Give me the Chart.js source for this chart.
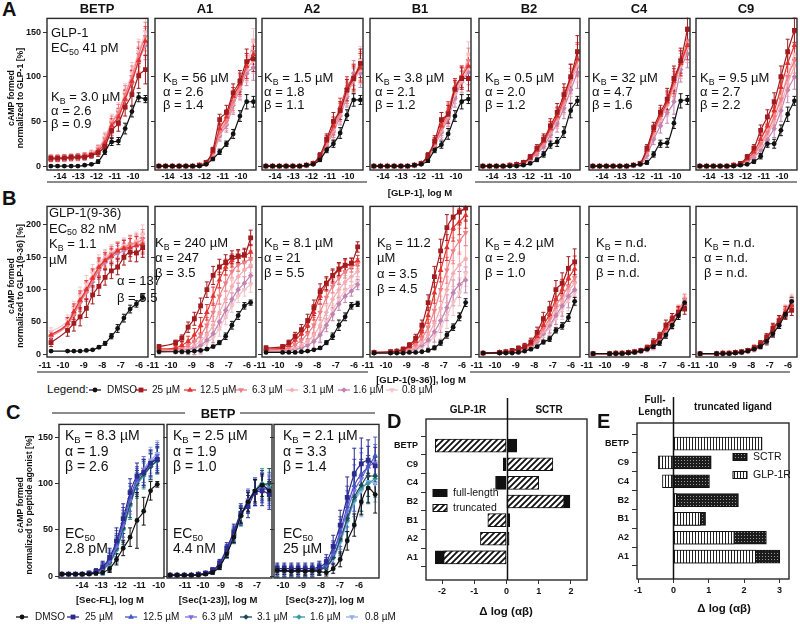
<!DOCTYPE html>
<html>
<head>
<meta charset="utf-8">
<script src="https://cdn.jsdelivr.net/npm/chart.js@4.4.1/dist/chart.umd.min.js"></script>
<style>
  body { margin: 0; background: #fff; }
  #fig { position: relative; width: 800px; height: 624px; overflow: hidden; background: #fff;
         font-family: "Liberation Sans", Arial, sans-serif; color: #111; }
  #fig canvas { position: absolute; }
  .t { position: absolute; white-space: nowrap; line-height: 1; }
  .sb { font-size: 0.68em; position: relative; top: 0.32em; }
  .ln { position: absolute; background: #8c8c8c; }
</style>
</head>
<body>
<div id="fig"></div>
<script>
// ---- concentrations (log M) ----
const glp1Log = [-14.5,-14.13,-13.76,-13.39,-13.02,-12.65,-12.28,-11.91,-11.54,-11.17,-10.8,-10.43,-10.06,-9.69,-9.32];
const glp936Log = [-11,-10.1,-9.76,-9.42,-9.08,-8.74,-8.4,-8.06,-7.72,-7.38,-7.04,-6.7,-6.36,-6.02];
const secFLLog = [-15.05,-14.7,-14.34,-13.99,-13.63,-13.27,-12.92,-12.56,-12.2,-11.85,-11.49,-11.13,-10.78,-10.42,-10.07];
const sec123Log = [-11.83,-11.44,-11.04,-10.65,-10.26,-9.86,-9.47,-9.08,-8.68,-8.29,-7.9,-7.5,-7.11,-6.72,-6.32];
const sec327Log = [-10.3,-9.93,-9.56,-9.2,-8.83,-8.46,-8.09,-7.72,-7.36,-6.99,-6.62,-6.25,-5.88,-5.52,-5.15];

const seriesLabels = ['DMSO', '25 µM', '12.5 µM', '6.3 µM', '3.1 µM', '1.6 µM', '0.8 µM'];

// ---- row A: [GLP-1] responses, % of GLP-1 (DMSO, 25, 12.5, 6.3, 3.1, 1.6, 0.8 µM) ----
const aBETP = [
  [0,0,0,0,0,1,2,5,16,27,28,42,61,77,75],
  [9,9,9,10,10,10,12,15,22,40,48,66,80,101,108],
  [8,8,9,9,10,11,13,17,26,45,55,75,95,118,140],
  [9,9,10,10,11,12,14,19,30,48,60,80,100,125,145],
  [8,8,8,9,9,10,12,16,26,44,56,76,96,120,138],
  [8,8,8,9,9,10,12,15,24,42,54,74,94,118,135],
  [10,10,10,11,11,12,15,20,32,50,62,82,104,128,150]];
const aBETPErr = [[1,1,1,1,1,1,1,2,3,4,4,6,6,5,4], [3,3,3,3,3,3,3,4,6,8,9,10,12,14,16]];
const aA1 = [
  [0,0,0,0,0,0,0,2,8,16,25,36,56,72,72],
  [0,0,0,0,0,0,1,4,18,52,60,82,95,117,120],
  [0,0,0,0,0,0,1,4,16,42,55,78,92,112,125],
  [0,0,0,0,0,0,1,3,14,38,50,72,90,110,128],
  [0,0,0,0,0,0,1,3,13,36,48,70,88,108,118],
  [0,0,0,0,0,0,1,3,12,34,46,68,86,104,110],
  [0,0,0,0,0,0,1,4,15,40,52,75,92,112,140]];
const aA1Err = [[1,1,1,1,1,1,1,1,2,3,3,5,6,8,6], [1,1,1,1,1,1,1,2,3,6,8,10,12,14,14]];
const aA2 = [
  [0,0,0,0,0,0,1,2,7,18,25,37,57,74,74],
  [0,0,0,0,0,0,1,3,12,30,50,62,85,98,115],
  [0,0,0,0,0,0,1,3,10,28,45,66,88,100,110],
  [0,0,0,0,0,0,1,3,10,26,42,60,82,96,112],
  [0,0,0,0,0,0,1,3,9,25,40,58,80,95,108],
  [0,0,0,0,0,0,1,3,9,24,38,56,78,104,104],
  [0,0,0,0,0,0,1,3,11,28,44,62,84,100,118]];
const aA2Err = [[1,1,1,1,1,1,1,1,2,3,4,6,6,7,5], [1,1,1,1,1,1,1,2,3,6,10,10,12,14,16]];
const aB1 = [
  [0,0,0,0,0,0,1,2,6,18,24,36,56,72,75],
  [0,0,0,0,0,0,1,3,12,28,52,58,86,98,98],
  [0,0,0,0,0,0,1,3,11,26,45,62,88,100,112],
  [0,0,0,0,0,0,1,3,10,25,42,58,84,100,118],
  [0,0,0,0,0,0,1,3,10,24,40,56,80,95,110],
  [0,0,0,0,0,0,1,3,9,23,38,54,76,94,105],
  [0,0,0,0,0,0,1,3,11,26,44,60,84,98,125]];
const aB1Err = [[1,1,1,1,1,1,1,1,2,3,4,6,6,8,5], [1,1,1,1,1,1,1,2,3,6,8,10,10,12,14]];
const aB2 = [
  [0,0,0,0,0,0,1,3,7,13,24,27,38,62,73],
  [0,0,0,0,1,2,4,10,20,30,45,60,80,100,128],
  [0,0,0,0,1,2,4,9,18,28,42,56,76,100,120],
  [0,0,0,0,1,2,3,8,16,26,40,54,72,95,118],
  [0,0,0,0,1,2,3,8,16,25,38,52,70,92,112],
  [0,0,0,0,1,1,3,7,14,22,35,48,65,85,105],
  [0,0,0,0,1,2,4,9,18,28,42,56,74,96,118]];
const aB2Err = [[1,1,1,1,1,1,1,1,2,3,4,5,6,8,5], [1,1,1,1,1,1,2,3,4,6,8,10,12,14,18]];
const aC4 = [
  [0,0,0,0,0,0,1,2,4,13,25,26,48,73,74],
  [0,0,0,0,0,0,1,3,20,43,60,75,98,118,153],
  [0,0,0,0,0,0,1,3,18,40,57,72,95,115,135],
  [0,0,0,0,0,0,1,3,16,38,55,70,92,115,140],
  [0,0,0,0,0,0,1,3,15,36,52,68,88,112,132],
  [0,0,0,0,0,0,1,2,12,30,45,60,72,108,126],
  [0,0,0,0,0,0,1,3,15,36,52,68,90,115,135]];
const aC4Err = [[1,1,1,1,1,1,1,1,2,3,4,5,6,8,5], [1,1,1,1,1,1,1,2,4,6,8,12,14,14,16]];
const aC9 = [
  [0,0,0,0,0,0,1,2,5,11,25,25,40,58,73],
  [0,0,0,0,0,1,3,10,20,40,55,72,100,128,152],
  [0,0,0,0,0,1,2,8,16,30,45,62,88,115,135],
  [0,0,0,0,0,1,2,6,13,25,38,55,75,100,118],
  [0,0,0,0,0,1,2,6,12,22,35,50,68,92,112],
  [0,0,0,0,0,0,2,5,10,18,30,42,62,85,100],
  [0,0,0,0,0,1,2,7,14,26,40,56,78,102,125]];
const aC9Err = [[1,1,1,1,1,1,1,1,2,3,4,5,6,8,5], [1,1,1,1,1,1,2,3,4,6,8,10,12,14,14]];

// ---- row B: [GLP-1(9-36)] responses ----
const bBETP = [
  [5,5,5,5,6,7,11,17,28,40,56,70,78,88],
  [18,37,48,58,71,92,105,119,129,135,150,158,157,165],
  [30,48,66,84,100,118,135,145,152,160,164,165,168,170],
  [28,45,62,80,98,115,132,145,155,160,165,170,172,178],
  [30,48,64,82,100,118,135,148,155,162,166,168,170,174],
  [28,46,62,80,96,112,130,142,150,156,160,165,168,172],
  [35,52,70,90,108,125,140,150,158,162,168,170,175,185]];
const bBETPErr = [[1,1,1,1,1,1,2,3,4,6,6,6,5,4], [6,9,12,14,14,14,14,12,12,12,12,14,14,15]];
const bA1 = [
  [4,4,4,4,5,6,8,12,18,28,45,60,75,80],
  [12,18,25,42,55,75,100,122,135,142,150,152,154,180],
  [8,10,14,20,30,45,65,90,115,135,145,150,152,158],
  [6,8,10,14,20,30,45,65,90,110,128,138,142,148],
  [5,6,8,10,14,20,30,45,65,85,105,120,130,138],
  [4,5,6,8,10,14,22,32,50,68,85,100,110,122],
  [4,5,6,7,9,12,18,26,40,58,75,90,100,108]];
const bA1Err = [[1,1,1,1,1,1,2,2,3,5,6,6,5,4], [3,4,5,8,10,12,12,14,12,12,10,10,10,12]];
const bA2 = [
  [3,3,3,3,4,5,7,10,18,28,45,58,75,78],
  [10,12,18,28,38,52,72,97,110,122,132,138,141,166],
  [8,10,14,22,32,45,65,90,108,120,130,136,140,145],
  [6,8,10,15,22,32,45,65,88,105,118,128,135,140],
  [5,6,8,10,14,20,30,45,65,85,100,112,120,128],
  [4,5,6,8,10,14,20,30,45,62,78,90,98,108],
  [4,5,6,8,10,14,22,32,50,68,85,98,105,112]];
const bA2Err = [[1,1,1,1,1,1,1,2,3,5,8,6,5,4], [3,3,4,6,8,10,12,12,10,10,10,10,8,8]];
const bB1 = [
  [2,2,2,2,3,3,4,6,10,18,30,42,58,80],
  [3,4,5,8,14,25,45,80,120,160,196,212,220,226],
  [3,4,5,7,12,20,35,60,95,130,165,195,205,215],
  [3,3,4,6,9,15,25,42,68,100,130,160,175,188],
  [3,3,4,5,7,11,18,30,48,72,100,125,138,148],
  [2,3,3,4,6,9,14,22,35,52,72,95,108,115],
  [2,3,3,4,5,7,11,18,28,42,60,80,95,125]];
const bB1Err = [[1,1,1,1,1,1,1,2,3,4,5,5,6,6], [2,2,2,3,4,6,8,12,16,18,20,20,20,20]];
const bB2 = [
  [2,2,2,2,3,5,8,12,19,24,37,44,57,82],
  [2,3,4,6,9,12,19,34,55,70,100,110,133,143],
  [2,3,4,5,8,11,16,28,45,62,85,100,118,132],
  [2,3,3,5,7,10,14,24,40,55,75,90,105,118],
  [2,3,3,4,6,9,13,22,36,50,68,82,98,110],
  [2,2,3,4,6,8,12,20,32,45,60,75,90,100],
  [2,2,3,4,5,7,11,18,30,42,56,70,85,95]];
const bB2Err = [[1,1,1,1,1,1,1,2,3,4,4,5,6,6], [1,1,2,3,4,5,6,8,10,12,14,16,18,20]];
const bC4 = [
  [1,1,1,1,2,3,5,8,12,18,30,45,60,80],
  [1,1,2,2,3,4,6,10,18,28,45,55,65,70],
  [1,1,2,2,3,4,6,10,16,26,40,55,66,78],
  [1,1,1,2,3,4,6,9,15,24,38,52,68,85],
  [1,1,1,2,3,4,5,9,14,22,36,50,65,80],
  [1,1,1,2,2,3,5,8,13,20,33,47,62,78],
  [1,1,1,2,3,4,5,9,14,22,35,50,66,82]];
const bC4Err = [[1,1,1,1,1,1,1,2,3,4,5,5,6,6], [1,1,1,1,2,2,3,4,6,6,8,8,8,8]];
const bC9 = [
  [1,1,1,1,2,3,5,8,12,20,32,45,62,82],
  [1,1,2,2,3,4,6,10,16,26,40,52,62,68],
  [1,1,2,2,3,4,6,10,16,25,38,52,66,75],
  [1,1,1,2,3,4,6,9,15,24,37,52,68,82],
  [1,1,1,2,3,4,5,9,14,22,36,50,66,80],
  [1,1,1,2,2,3,5,8,13,20,34,48,64,78],
  [1,1,1,2,3,4,5,9,14,22,35,50,66,85]];
const bC9Err = [[1,1,1,1,1,1,1,2,3,4,5,5,6,6], [1,1,1,1,2,2,3,4,5,6,8,8,8,8]];

// ---- row C: secretin peptides + BETP, % of peptide agonist ----
const cSecFL = [
  [2,2,2,2,2,3,4,8,18,30,42,60,70,92,99],
  [2,2,2,2,3,5,10,20,38,62,90,108,112,122,126],
  [2,2,2,2,3,5,9,18,35,58,85,104,112,120,128],
  [2,2,2,2,3,4,8,16,32,55,82,102,115,122,130],
  [2,2,2,2,3,4,8,15,30,52,78,100,110,118,125],
  [2,2,2,2,3,4,7,14,28,50,76,98,108,118,124],
  [2,2,2,2,3,4,7,14,28,50,76,100,115,125,132]];
const cSecFLErr = [[1,1,1,1,1,1,2,4,6,8,10,30,15,10,3], [1,1,1,1,2,3,6,10,14,16,15,14,14,14,14]];
const cSec123 = [
  [1,1,1,1,1,2,4,10,24,42,65,80,92,98,92],
  [1,1,1,1,2,3,6,14,30,48,68,75,90,92,88],
  [1,1,1,1,2,3,6,13,28,46,66,80,90,95,92],
  [1,1,1,1,2,3,6,12,27,45,66,82,92,96,94],
  [1,1,1,1,2,3,5,12,26,44,65,80,90,98,100],
  [1,1,1,1,2,3,5,11,25,43,64,80,92,100,96],
  [1,1,1,1,2,3,5,11,25,43,64,80,92,98,90]];
const cSec123Err = [[1,1,1,1,1,1,2,3,4,6,8,10,12,12,10], [1,1,1,1,1,2,3,4,6,8,10,12,14,16,16]];
const cSec327 = [
  [6,6,5,6,5,6,5,4,8,18,38,55,80,95,88],
  [8,8,8,8,8,8,10,15,32,55,85,110,121,125,119],
  [6,6,6,6,6,6,8,12,26,48,75,98,110,118,130],
  [6,6,6,6,6,6,8,12,24,45,70,92,105,118,122],
  [5,5,5,5,5,5,7,10,20,40,62,85,98,108,108],
  [5,5,5,5,5,5,7,10,20,38,60,82,95,100,105],
  [5,5,5,5,5,5,7,10,18,36,58,80,92,102,100]];
const cSec327Err = [[4,4,4,4,4,4,4,4,5,8,10,12,14,16,20], [6,6,6,6,6,6,6,8,12,16,22,28,28,22,20]];

// ---- D and E: Δ log(αβ) ----
const compounds = ['BETP', 'C9', 'C4', 'B2', 'B1', 'A2', 'A1'];
const dTruncated = [-2.21, 1.44, 1.0, 1.79, -0.58, -0.81, -1.95];
const dFullLength = [0.32, -0.1, -0.34, 1.97, 0.1, 0.08, -2.21];
const eGLP1R = [2.51, -0.43, -0.31, 0.09, 0.77, 1.72, 2.33];
const eSCTR = [null, 1.07, 1.02, 1.84, 0.91, 2.63, 3.01];

const yTicksA = [0, 50, 100, 150];
const yTicksB = [0, 50, 100, 150, 200];

// ---------------------------------------------------------------
const fig = document.getElementById('fig');
const FONT = '"Liberation Sans", Arial, sans-serif';
const tickFont = { family: FONT, size: 9, weight: 'bold' };

const redPal = [
  { color: '#111111', style: 'circle', r: 2.4 },
  { color: '#a11b1f', style: 'rect', r: 3.4 },
  { color: '#e3322e', style: 'triangle', r: 3.3 },
  { color: '#ef7f86', style: 'triangle', rot: 180, r: 3.3 },
  { color: '#f4adb2', style: 'rectRot', r: 2.6 },
  { color: '#c283b0', style: 'rectRot', r: 2.8 },
  { color: '#f3c3c8', style: 'triangle', rot: 180, r: 3.3 }
];
const bluePal = [
  { color: '#111111', style: 'circle', r: 2.4 },
  { color: '#2c2a8e', style: 'rect', r: 3.4 },
  { color: '#4656c4', style: 'triangle', r: 3.3 },
  { color: '#7b6ee0', style: 'triangle', rot: 180, r: 3.3 },
  { color: '#1d4a56', style: 'rectRot', r: 2.8 },
  { color: '#3a9ca2', style: 'rectRot', r: 2.8 },
  { color: '#8fb2ea', style: 'triangle', rot: 180, r: 3.3 }
];

function put(html, x, y, o = {}) {
  const d = document.createElement('div');
  d.className = 't';
  d.innerHTML = html;
  d.style.left = x + 'px';
  d.style.top = y + 'px';
  d.style.fontSize = (o.size || 13) + 'px';
  if (o.bold) d.style.fontWeight = 'bold';
  const ax = o.anchor === 'c' ? '-50%' : o.anchor === 'r' ? '-100%' : '0';
  d.style.transform = `translate(${ax},-50%)` + (o.rot ? ` rotate(${o.rot}deg)` : '');
  if (o.center) d.style.textAlign = 'center';
  if (o.lh) d.style.lineHeight = o.lh;
  fig.appendChild(d);
}

function hline(x1, x2, y, w = 2) {
  const d = document.createElement('div');
  d.className = 'ln';
  d.style.left = x1 + 'px';
  d.style.top = (y - w / 2) + 'px';
  d.style.width = (x2 - x1) + 'px';
  d.style.height = w + 'px';
  fig.appendChild(d);
}

// error bars drawn under the points
const errorBars = {
  id: 'errorBars',
  beforeDatasetsDraw(chart) {
    const ctx = chart.ctx, ys = chart.scales.y, a = chart.chartArea;
    ctx.save();
    ctx.beginPath();
    ctx.rect(a.left, a.top - 1, a.right - a.left, a.bottom - a.top + 2);
    ctx.clip();
    for (let i = chart.data.datasets.length - 1; i >= 0; i--) {
      const ds = chart.data.datasets[i];
      if (!ds.errors) continue;
      const meta = chart.getDatasetMeta(i);
      ctx.strokeStyle = ds.borderColor;
      ctx.lineWidth = 1;
      meta.data.forEach((pt, j) => {
        const e = ds.errors[j];
        if (!e) return;
        const v = ds.data[j].y;
        const top = ys.getPixelForValue(v + e), bot = ys.getPixelForValue(v - e);
        ctx.beginPath();
        ctx.moveTo(pt.x, bot); ctx.lineTo(pt.x, top);
        ctx.moveTo(pt.x - 2, top); ctx.lineTo(pt.x + 2, top);
        ctx.moveTo(pt.x - 2, bot); ctx.lineTo(pt.x + 2, bot);
        ctx.stroke();
      });
    }
    ctx.restore();
  }
};

const frameBox = {
  id: 'frameBox',
  afterDraw(chart) {
    const a = chart.chartArea, ctx = chart.ctx;
    ctx.save();
    ctx.strokeStyle = '#2a2a2a';
    ctx.lineWidth = 1.4;
    ctx.strokeRect(a.left, a.top, a.right - a.left, a.bottom - a.top);
    ctx.restore();
  }
};

function curvePanel(p) {
  const padL = 30, padT = 4, padR = 5, padB = 14;
  const cv = document.createElement('canvas');
  cv.width = padL + p.w + padR;
  cv.height = padT + p.h + padB;
  cv.style.left = (p.x - padL) + 'px';
  cv.style.top = (p.y - padT) + 'px';
  fig.appendChild(cv);
  const datasets = p.series.map((ys, k) => {
    const m = p.pal[k];
    return {
      data: ys.map((v, j) => ({ x: p.conc[j], y: v })),
      errors: k === 0 ? p.err[0] : p.err[1],
      borderColor: m.color,
      backgroundColor: m.color,
      pointStyle: m.style,
      pointRotation: m.rot || 0,
      pointRadius: m.r,
      pointBorderWidth: 0,
      borderWidth: 1.2,
      cubicInterpolationMode: 'monotone'
    };
  });
  new Chart(cv, {
    type: 'line',
    data: { datasets },
    options: {
      responsive: false, animation: false, events: [],
      layout: { padding: { top: padT, right: padR } },
      plugins: { legend: { display: false }, tooltip: { enabled: false } },
      scales: {
        x: {
          type: 'linear', min: p.xMin, max: p.xMax,
          afterBuildTicks: s => { s.ticks = p.xTicks.map(v => ({ value: v })); },
          afterFit: s => { s.height = padB; },
          grid: { display: false, drawTicks: false }, border: { display: false },
          ticks: { color: '#111', font: tickFont, padding: p.tickPad, align: p.align || 'center',
                   maxRotation: 0, autoSkip: false, callback: v => String(v) }
        },
        y: {
          type: 'linear', min: p.yMin, max: p.yMax,
          afterBuildTicks: s => { s.ticks = p.yTicks.map(v => ({ value: v })); },
          afterFit: s => { s.width = padL; },
          grid: { drawOnChartArea: false, tickLength: 4, color: '#333' },
          border: { display: false },
          ticks: { color: '#111', font: tickFont, padding: 2, callback: v => p.yLabels ? String(v) : '' }
        }
      }
    },
    plugins: [errorBars, frameBox]
  });
}

// ---- rows A and B ----
const colX = [47, 155, 262, 370, 479, 589, 696];
const colTitles = ['BETP', 'A1', 'A2', 'B1', 'B2', 'C4', 'C9'];
const rowA = [aBETP, aA1, aA2, aB1, aB2, aC4, aC9];
const rowAErr = [aBETPErr, aA1Err, aA2Err, aB1Err, aB2Err, aC4Err, aC9Err];
const rowB = [bBETP, bA1, bA2, bB1, bB2, bC4, bC9];
const rowBErr = [bBETPErr, bA1Err, bA2Err, bB1Err, bB2Err, bC4Err, bC9Err];

rowA.forEach((s, i) => {
  curvePanel({ x: colX[i], y: 15, w: 101, h: 155, conc: glp1Log, series: s, err: rowAErr[i], pal: redPal,
    xMin: -14.71, xMax: -9.18, xTicks: [-14, -13, -12, -11, -10], tickPad: 1,
    yMin: -4.4, yMax: 165.3, yTicks: yTicksA, yLabels: i === 0 });
  put(colTitles[i], colX[i] + 50, 8, { size: 13, bold: true, anchor: 'c' });
});
rowB.forEach((s, i) => {
  curvePanel({ x: colX[i], y: 203, w: 101, h: 154, conc: glp936Log, series: s, err: rowBErr[i], pal: redPal,
    xMin: -11.22, xMax: -5.73, xTicks: [-11, -10, -9, -8, -7, -6], tickPad: 3, align: 'end',
    yMin: -4.1, yMax: 228.7, yTicks: yTicksB, yLabels: i === 0 });
});

// ---- row C ----
curvePanel({ x: 59, y: 421, w: 105, h: 157, conc: secFLLog, series: cSecFL, err: cSecFLErr, pal: bluePal,
  xMin: -15.2, xMax: -9.72, xTicks: [-14, -13, -12, -11, -10], tickPad: 2,
  yMin: -2.1, yMax: 163.7, yTicks: yTicksA, yLabels: true });
curvePanel({ x: 167, y: 421, w: 105, h: 157, conc: sec123Log, series: cSec123, err: cSec123Err, pal: bluePal,
  xMin: -12.0, xMax: -6.17, xTicks: [-11, -10, -9, -8, -7], tickPad: 2,
  yMin: -2.1, yMax: 163.7, yTicks: yTicksA, yLabels: false });
curvePanel({ x: 274, y: 421, w: 105, h: 157, conc: sec327Log, series: cSec327, err: cSec327Err, pal: bluePal,
  xMin: -10.47, xMax: -4.95, xTicks: [-10, -9, -8, -7, -6], tickPad: 2,
  yMin: -2.1, yMax: 163.7, yTicks: yTicksA, yLabels: false });

// ---- D / E bar panels ----
function pattern(kind) {
  const c = document.createElement('canvas');
  const g = c.getContext('2d');
  if (kind === 'diag') {
    c.width = c.height = 6;
    g.fillStyle = '#fff'; g.fillRect(0, 0, 6, 6);
    g.strokeStyle = '#111'; g.lineWidth = 1.8;
    g.beginPath();
    g.moveTo(-1, 7); g.lineTo(7, -1);
    g.moveTo(-1, 1); g.lineTo(1, -1);
    g.moveTo(5, 7); g.lineTo(7, 5);
    g.stroke();
  } else if (kind === 'vert') {
    c.width = 3; c.height = 2;
    g.fillStyle = '#fff'; g.fillRect(0, 0, 3, 2);
    g.fillStyle = '#222'; g.fillRect(0, 0, 1, 2);
  } else {
    c.width = c.height = 3;
    g.fillStyle = '#1c1c1c'; g.fillRect(0, 0, 3, 3);
    g.fillStyle = '#9a9a9a'; g.fillRect(1, 1, 1, 1);
  }
  return g.createPattern(c, 'repeat');
}
const diagFill = pattern('diag'), vertFill = pattern('vert'), dotFill = pattern('dots');

function barPanel(p) {
  const padL = p.padL, padT = p.padT, padR = 5, padB = 18;
  const cv = document.createElement('canvas');
  cv.width = padL + p.w + padR;
  cv.height = padT + p.h + padB;
  cv.style.left = (p.x - padL) + 'px';
  cv.style.top = (p.y - padT) + 'px';
  fig.appendChild(cv);
  const toPts = vals => vals.map((v, i) => ({ x: v, y: i })).filter(d => d.x !== null);
  const mk = (vals, fill) => ({
    data: toPts(vals), backgroundColor: fill, borderColor: '#111', borderWidth: 1,
    borderSkipped: false, barThickness: 13, grouped: false
  });
  const zeroLine = {
    id: 'zeroLine',
    afterDraw(chart) {
      const ctx = chart.ctx, a = chart.chartArea;
      const x0 = Math.round(chart.scales.x.getPixelForValue(0)) + 0.5;
      ctx.save();
      ctx.strokeStyle = '#111'; ctx.lineWidth = 1.5;
      ctx.beginPath(); ctx.moveTo(x0, a.top - p.ext); ctx.lineTo(x0, a.bottom); ctx.stroke();
      // legend inside frame
      ctx.font = '10.5px ' + FONT;
      ctx.textBaseline = 'middle';
      p.legend.forEach(it => {
        const lx = it.x - (p.x - padL), ly = it.y - (p.y - padT);
        ctx.fillStyle = it.fill;
        ctx.fillRect(lx, ly - 3.5, 14, 7);
        ctx.strokeStyle = '#111'; ctx.lineWidth = 1;
        ctx.strokeRect(lx, ly - 3.5, 14, 7);
        ctx.fillStyle = '#111';
        ctx.fillText(it.text, lx + 20, ly);
      });
      ctx.restore();
    }
  };
  new Chart(cv, {
    type: 'bar',
    data: { datasets: [mk(p.front, p.frontFill), mk(p.back, p.backFill)] },
    options: {
      indexAxis: 'y', responsive: false, animation: false, events: [],
      layout: { padding: { top: padT, right: padR } },
      plugins: { legend: { display: false }, tooltip: { enabled: false } },
      scales: {
        x: {
          type: 'linear', min: p.xMin, max: p.xMax,
          afterBuildTicks: s => { s.ticks = p.xTicks.map(v => ({ value: v })); },
          afterFit: s => { s.height = padB; },
          grid: { drawOnChartArea: false, tickLength: 4, color: '#333' }, border: { display: false },
          ticks: { color: '#111', font: tickFont, padding: 2, maxRotation: 0, autoSkip: false, callback: v => String(v) }
        },
        y: {
          type: 'linear', reverse: true, min: p.yMin, max: p.yMax,
          afterBuildTicks: s => { s.ticks = compounds.map((c, i) => ({ value: i })); },
          afterFit: s => { s.width = padL; },
          grid: { drawOnChartArea: false, tickLength: 5, color: '#333' }, border: { display: false },
          ticks: { color: '#111', font: tickFont, padding: 3, callback: v => compounds[v] }
        }
      }
    },
    plugins: [frameBox, zeroLine]
  });
}

barPanel({ x: 426, y: 419, w: 161, h: 161, padL: 36, padT: 22, ext: 21,
  front: dTruncated, frontFill: diagFill, back: dFullLength, backFill: '#111',
  xMin: -2.5, xMax: 2.5, xTicks: [-2, -1, 0, 1, 2], yMin: -0.815, yMax: 6.6,
  legend: [{ x: 433, y: 493, fill: '#111', text: 'full-length' }, { x: 433, y: 508, fill: diagFill, text: 'truncated' }] });
barPanel({ x: 637, y: 423, w: 152, h: 156, padL: 38, padT: 27, ext: 26,
  front: eGLP1R, frontFill: vertFill, back: eSCTR, backFill: dotFill,
  xMin: -1.03, xMax: 3.27, xTicks: [-1, 0, 1, 2, 3], yMin: -0.5, yMax: 6.6,
  legend: [{ x: 733, y: 457, fill: dotFill, text: 'SCTR' }, { x: 733, y: 475, fill: vertFill, text: 'GLP-1R' }] });

// ---- legends for rows B and C ----
function drawMarker(g, m, x, y) {
  const r = m.r;
  g.fillStyle = m.color;
  g.beginPath();
  if (m.style === 'circle') g.arc(x, y, r, 0, 2 * Math.PI);
  else if (m.style === 'rect') { const s = r * Math.SQRT1_2; g.rect(x - s, y - s, 2 * s, 2 * s); }
  else if (m.style === 'rectRot') { g.moveTo(x, y - r); g.lineTo(x + r, y); g.lineTo(x, y + r); g.lineTo(x - r, y); g.closePath(); }
  else { const d = m.rot ? -1 : 1; g.moveTo(x, y - d * r); g.lineTo(x + r * 0.87, y + d * r * 0.5); g.lineTo(x - r * 0.87, y + d * r * 0.5); g.closePath(); }
  g.fill();
}
function legendRow(y, pal, markX, textX) {
  const cv = document.createElement('canvas');
  cv.width = 800; cv.height = 16;
  cv.style.left = '0px'; cv.style.top = (y - 8) + 'px';
  fig.appendChild(cv);
  const g = cv.getContext('2d');
  pal.forEach((m, k) => {
    g.strokeStyle = m.color; g.lineWidth = 1.3;
    g.beginPath(); g.moveTo(markX[k] - 6, 8); g.lineTo(markX[k] + 6, 8); g.stroke();
    drawMarker(g, m, markX[k], 8);
    put(seriesLabels[k], textX[k], y, { size: 10 });
  });
}
put('Legend:', 47, 390, { size: 11.5 });
legendRow(390, redPal, [95, 141, 190, 241, 292, 344, 392], [107, 152, 200, 252, 303, 353, 402]);
legendRow(617, bluePal, [22, 73, 131, 191, 246, 299, 352], [35, 85, 143, 202, 257, 310, 365]);

// ---- panel letters, axis titles, separators ----
put('A', 2, 9, { size: 20, bold: true });
put('B', 2, 198, { size: 20, bold: true });
put('C', 6, 412, { size: 20, bold: true });
put('D', 387, 421, { size: 20, bold: true });
put('E', 597, 421, { size: 20, bold: true });

put('cAMP formed<br>normalized to GLP-1 [%]', 16, 98, { size: 8.7, bold: true, anchor: 'c', rot: -90, center: true, lh: '9px' });
put('cAMP formed<br>normalized to GLP-1(9-36) [%]', 16, 286, { size: 8.7, bold: true, anchor: 'c', rot: -90, center: true, lh: '9px' });
put('cAMP formed<br>normalized to peptide agonist [%]', 25, 505, { size: 8.7, bold: true, anchor: 'c', rot: -90, center: true, lh: '9px' });

hline(47, 367, 182); hline(475, 797, 182);
put('[GLP-1], log M', 420, 193, { size: 9.5, bold: true, anchor: 'c' });
hline(37, 368, 372); hline(470, 790, 372);
put('[GLP-1(9-36)], log M', 421, 380, { size: 9.5, bold: true, anchor: 'c' });

hline(52, 185, 413, 1.5); hline(240, 375, 413, 1.5);
put('BETP', 218, 413, { size: 13, bold: true, anchor: 'c' });
put('[Sec-FL], log M', 110, 600, { size: 9.5, bold: true, anchor: 'c' });
put('[Sec(1-23)], log M', 218, 600, { size: 9.5, bold: true, anchor: 'c' });
put('[Sec(3-27)], log M', 325, 600, { size: 9.5, bold: true, anchor: 'c' });

put('GLP-1R', 468, 410, { size: 10, bold: true, anchor: 'c' });
put('SCTR', 549, 410, { size: 10, bold: true, anchor: 'c' });
put('Δ log (αβ)', 506, 612, { size: 11.5, bold: true, anchor: 'c' });
put('Full-<br>Length', 655, 406, { size: 10, bold: true, anchor: 'c', center: true, lh: '12px' });
put('truncated ligand', 733, 407, { size: 10, bold: true, anchor: 'c' });
put('Δ log (αβ)', 724, 609, { size: 11.5, bold: true, anchor: 'c' });

// ---- in-panel annotations ----
const KB = v => `K<span class="sb">B</span> = ${v}`;
const EC = v => `EC<span class="sb">50</span> ${v}`;
function notes(x, y0, lines, step, size) {
  lines.forEach((l, i) => { if (l !== null) put(l, x, y0 + i * step, { size }); });
}
notes(51, 32, ['GLP-1', EC('41 pM')], 15, 13);
notes(51, 96, [KB('3.0 µM'), 'α = 2.6', 'β = 0.9'], 13.5, 13);
const aNotes = [[163, '56 µM', '2.6', '1.4'], [264, '1.5 µM', '1.8', '1.1'], [375, '3.8 µM', '2.1', '1.2'],
                [485, '0.5 µM', '2.0', '1.2'], [592, '32 µM', '4.7', '1.6'], [700, '9.5 µM', '2.7', '2.2']];
aNotes.forEach(n => notes(n[0], 77, [KB(n[1]), 'α = ' + n[2], 'β = ' + n[3]], 13.5, 13));

notes(49, 212, ['GLP-1(9-36)', EC('82 nM'), KB('1.1'), 'µM'], 15.5, 13);
notes(117, 280, ['α = 137', 'β = 5.5'], 16.5, 13);
notes(377, 242, [KB('11.2'), 'µM', 'α = 3.5', 'β = 4.5'], 15.3, 13);
const bNotes = [[155, '240 µM', '247', '3.5'], [264, '8.1 µM', '21', '5.5'], [485, '4.2 µM', '2.9', '1.0'],
                [596, 'n.d.', 'n.d.', 'n.d.'], [704, 'n.d.', 'n.d.', 'n.d.']];
bNotes.forEach(n => notes(n[0], 242, [KB(n[1]), 'α = ' + n[2], 'β = ' + n[3]], 15, 13));

const cNotes = [[65, '8.3 µM', '1.9', '2.6', '2.8 pM'], [173, '2.5 µM', '1.9', '1.0', '4.4 nM'], [283, '2.1 µM', '3.3', '1.4', '25 µM']];
cNotes.forEach(n => {
  notes(n[0], 435, [KB(n[1]), 'α = ' + n[2], 'β = ' + n[3]], 15.5, 14);
  notes(n[0], 533, ['EC<span class="sb">50</span>', n[4]], 14.5, 14);
});
</script>
</body>
</html>
